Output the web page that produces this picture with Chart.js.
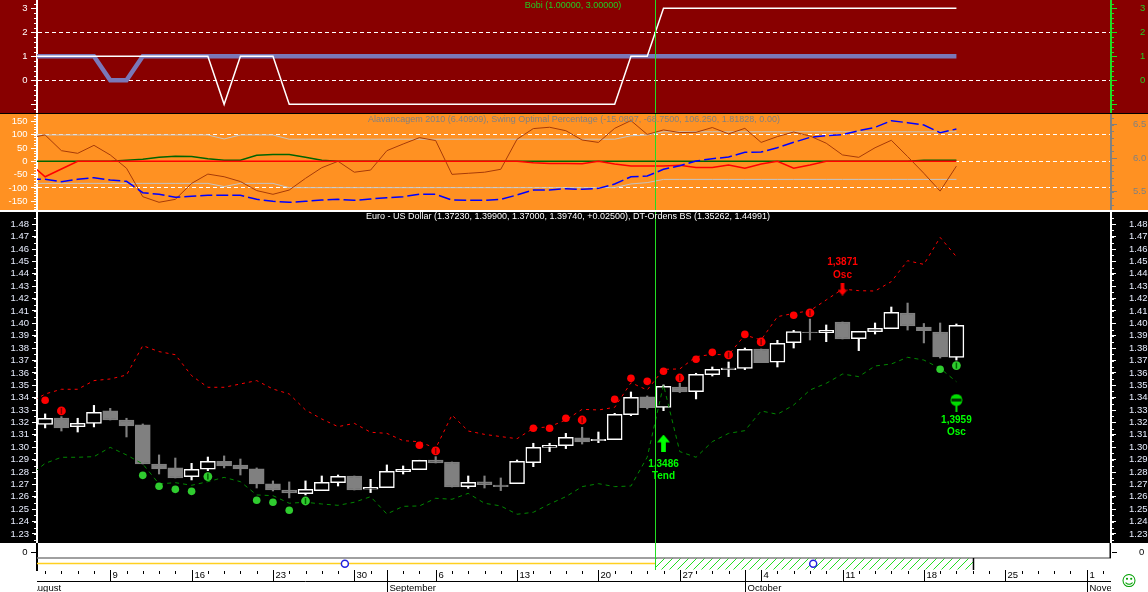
<!DOCTYPE html>
<html>
<head>
<meta charset="utf-8">
<title>Euro - US Dollar</title>
<script src="https://cdn.jsdelivr.net/npm/chart.js@4/dist/chart.umd.min.js"></script>
<style>
  html, body { margin: 0; padding: 0; background: #000; overflow: hidden; }
  canvas { position: absolute; left: 0; display: block; }
  #bobiChart { top: 0; background: #880000; }
  #swingChart { top: 114px; background: #ff9122; }
  #priceChart { top: 212px; background: #000; }
  #whiteLine { position: absolute; left: 0; top: 210px; width: 1148px; height: 2px; background: #fff; }
  #dateChart { top: 543px; background: #fff; }
</style>
</head>
<body>
<canvas id="bobiChart" width="1148" height="113"></canvas>
<canvas id="swingChart" width="1148" height="96"></canvas>
<div id="whiteLine"></div>
<canvas id="priceChart" width="1148" height="331"></canvas>
<canvas id="dateChart" width="1148" height="49"></canvas>
<script>
// candles, day 0 is the first one drawn
const opens  = [1.3185,1.3236,1.3166,1.3193,1.3293,1.3220,1.3180,1.2865,1.2833,1.2763,1.2822,1.2887,1.2857,1.2825,1.2704,1.2655,1.2626,1.2650,1.2714,1.2768,1.2661,1.2674,1.2803,1.2819,1.2897,1.2881,1.2682,1.2720,1.2695,1.2706,1.2876,1.2999,1.3013,1.3075,1.3053,1.3061,1.3263,1.3406,1.3322,1.3486,1.3449,1.3586,1.3626,1.3637,1.3793,1.3686,1.3844,1.3930,1.3925,1.4011,1.3877,1.3933,1.3957,1.4084,1.3971,1.3930,1.3726]
const closes = [1.3234,1.3156,1.3193,1.3282,1.3220,1.3172,1.2865,1.2825,1.2752,1.2822,1.2887,1.2849,1.2825,1.2704,1.2655,1.2631,1.2661,1.2717,1.2765,1.2655,1.2677,1.2806,1.2822,1.2895,1.2873,1.2679,1.2717,1.2698,1.2682,1.2887,1.2999,1.3016,1.3080,1.3043,1.3064,1.3266,1.3403,1.3320,1.3492,1.3446,1.3589,1.3629,1.3640,1.3790,1.3683,1.3839,1.3933,1.3925,1.3944,1.3874,1.3936,1.3960,1.4089,1.3979,1.3941,1.3729,1.3984]
const highs  = [1.3269,1.3247,1.3234,1.3338,1.3314,1.3234,1.3188,1.2938,1.2913,1.2870,1.2921,1.2930,1.2905,1.2833,1.2728,1.2720,1.2728,1.2768,1.2776,1.2768,1.2741,1.2857,1.2849,1.2895,1.2924,1.2881,1.2768,1.2768,1.2752,1.2897,1.3032,1.3032,1.3112,1.3161,1.3123,1.3274,1.3446,1.3414,1.3503,1.3516,1.3597,1.3648,1.3688,1.3801,1.3793,1.3863,1.3944,1.4035,1.3987,1.4011,1.3936,1.4003,1.4132,1.4164,1.3999,1.4003,1.3995]
const lows   = [1.3156,1.3131,1.3123,1.3164,1.3220,1.3083,1.2865,1.2784,1.2752,1.2736,1.2811,1.2833,1.2776,1.2671,1.2647,1.2591,1.2615,1.2650,1.2687,1.2655,1.2634,1.2674,1.2784,1.2819,1.2873,1.2679,1.2669,1.2671,1.2650,1.2706,1.2843,1.2965,1.2989,1.3026,1.3037,1.3061,1.3255,1.3309,1.3295,1.3441,1.3390,1.3575,1.3570,1.3626,1.3683,1.3648,1.3801,1.3866,1.3852,1.3874,1.3780,1.3914,1.3957,1.3946,1.3842,1.3720,1.3704]

// lines start one day before the first candle, that day is cut by the scale
const upperBand = [1.3354,1.3430,1.3468,1.3468,1.3538,1.3551,1.3583,1.3820,1.3772,1.3747,1.3578,1.3484,1.3484,1.3511,1.3538,1.3470,1.3430,1.3301,1.3228,1.3166,1.3193,1.3121,1.3112,1.3053,1.3045,1.2991,1.3260,1.3131,1.3104,1.3086,1.3069,1.3153,1.3166,1.3220,1.3306,1.3301,1.3322,1.3521,1.3462,1.3629,1.3632,1.3731,1.3750,1.3745,1.3906,1.3866,1.4054,1.4081,1.4102,1.4189,1.4277,1.4264,1.4261,1.4337,1.4506,1.4476,1.4694,1.4538]
const lowerBand = [1.2764,1.2870,1.2919,1.2919,1.2924,1.2999,1.2938,1.2865,1.2704,1.2714,1.2693,1.2722,1.2757,1.2722,1.2615,1.2609,1.2548,1.2556,1.2542,1.2531,1.2556,1.2601,1.2461,1.2523,1.2526,1.2588,1.2580,1.2628,1.2548,1.2526,1.2459,1.2475,1.2542,1.2601,1.2682,1.2706,1.2682,1.2687,1.2920,1.3503,1.2965,1.2919,1.3045,1.3112,1.3134,1.3293,1.3266,1.3341,1.3462,1.3516,1.3591,1.3570,1.3656,1.3672,1.3726,1.3704,1.3637,1.3529]

const redDotDays    = [0,23,30,31,32,35,36,37,38,40,41,43,46]
const redDotPrices  = [1.3379,1.3016,1.3153,1.3153,1.3234,1.3387,1.3556,1.3532,1.3613,1.3710,1.3766,1.3911,1.4065]
const redMarkDays   = [1,24,33,39,42,44,47]
const redMarkPrices = [1.3293,1.2970,1.3220,1.3559,1.3745,1.3850,1.4084]
const greenDotDays    = [6,7,8,9,13,14,15,55]
const greenDotPrices  = [1.2773,1.2685,1.2660,1.2644,1.2572,1.2556,1.2491,1.3629]
const greenMarkDays   = [10,16,56]
const greenMarkPrices = [1.2763,1.2566,1.3659]

// notes on the price panel
const noteTexts  = ['1,3871','Osc','1,3486','Tend','1,3959','Osc']
const noteDays   = [49,49,38,38,56,56]
const notePrices = [1.4490,1.4390,1.2865,1.2768,1.3220,1.3118]
const noteColors = ['#ff0000','#ff0000','#00ff00','#00ff00','#00ff00','#00ff00']

// bobi panel
const bobiThick = [1,1,1,1,1,0,0,1,1,1,1,1,1,1,1,1,1,1,1,1,1,1,1,1,1,1,1,1,1,1,1,1,1,1,1,1,1,1,1,1,1,1,1,1,1,1,1,1,1,1,1,1,1,1,1,1,1,1]
const bobiThin  = [1,1,1,1,1,1,1,1,1,1,1,1,-1,1,1,1,-1,-1,-1,-1,-1,-1,-1,-1,-1,-1,-1,-1,-1,-1,-1,-1,-1,-1,-1,-1,-1,1,1,3,3,3,3,3,3,3,3,3,3,3,3,3,3,3,3,3,3,3]

// swing panel
const swingBrown = [88,99,40,30,60,24,-26,-133,-154,-143,-83,-48,-58,-76,-110,-124,-108,-64,-24,0,-41,-33,40,65,89,78,-49,-45,-41,-30,83,123,128,115,80,71,124,153,101,118,108,109,127,103,124,71,93,110,95,68,24,15,51,79,18,-45,-112,-18]
const swingUpper = [99,99,99,99,99,99,99,99,99,99,99,99,84,99,99,99,83,83,83,83,83,83,83,83,83,83,83,83,83,83,83,83,83,83,83,83,83,96,99,111,111,111,111,111,111,111,111,111,111,111,111,111,111,111,111,111,111,111]
const swingLower = [-83,-83,-83,-83,-83,-83,-83,-83,-83,-83,-83,-83,-95,-83,-83,-83,-99,-99,-99,-99,-99,-99,-99,-99,-99,-99,-99,-99,-99,-99,-99,-99,-99,-99,-99,-99,-99,-85,-80,-68,-68,-68,-68,-68,-68,-68,-68,-68,-68,-68,-68,-68,-68,-68,-68,-68,-68,-68]
const swingGreen = [0,0,0,0,0,0,4,8,15,19,18,10,4,4,23,26,26,15,4,0,0,0,0,0,0,0,0,0,0,0,0,0,0,0,0,0,0,0,0,0,0,0,0,0,0,0,0,0,0,0,0,0,0,0,0,4,4,4]
const swingRed   = [-5,-58,-29,0,0,0,0,0,0,0,0,0,0,0,0,0,0,0,0,0,0,0,0,0,0,0,0,0,0,0,0,-5,-8,-8,-9,0,-10,-18,-18,-18,-15,-23,-23,-14,-26,-10,0,-26,-14,0,0,0,0,0,0,0,0,0]
const swingBlue  = [5.682,5.682,5.647,5.682,5.706,5.672,5.652,5.483,5.458,5.413,5.428,5.443,5.443,5.443,5.383,5.353,5.338,5.353,5.373,5.383,5.368,5.388,5.408,5.423,5.458,5.458,5.373,5.368,5.368,5.383,5.448,5.522,5.522,5.542,5.532,5.547,5.612,5.721,5.731,5.831,5.886,5.955,5.990,6.015,6.085,6.090,6.154,6.234,6.308,6.333,6.348,6.408,6.458,6.557,6.527,6.493,6.378,6.433]

// date axis
const weekDays   = [4,9,14,19,24,29,34,39,44,49,54,59,64]
const weekLabels = ['9','16','23','30','6','13','20','27','4','11','18','25','1']
const monthDays   = [-1,21,43,64]
const monthLabels = ['August','September','October','November']

const cursorDay = 37.5
const hatchEnd = 57.05
const firstDay = -0.5
const lastDay = 65.5

const points = (xs, ys) => xs.map((x, i) => ({ x: x, y: ys[i] }))
const fromDay = (ys, start) => ys.map((y, i) => ({ x: i + start, y: y }))

const lineSet = (data, color, width, extra) => Object.assign({
  type: 'line', data: data, borderColor: color, borderWidth: width, pointRadius: 0, tension: 0, fill: false
}, extra)

const dotSet = (days, prices, color, radius, order) => ({
  type: 'scatter', data: points(days, prices), backgroundColor: color, borderWidth: 0, pointRadius: radius, order: order
})

// dark stroke in the middle of the marked dots
const markSet = (days, prices, color, order) => ({
  type: 'scatter', data: points(days, prices), pointStyle: 'line', rotation: 90, borderColor: color,
  borderWidth: 1.5, pointRadius: 3, order: order
})

const arrowImage = (color, w, h, up) => {
  const c = document.createElement('canvas')
  c.width = w
  c.height = h
  const g = c.getContext('2d')
  if (!up) { g.translate(0, h); g.scale(1, -1) }
  g.fillStyle = color
  g.beginPath()
  g.moveTo(w / 2, 0)
  g.lineTo(w, h * 0.45)
  g.lineTo(w * 0.68, h * 0.45)
  g.lineTo(w * 0.68, h)
  g.lineTo(w * 0.32, h)
  g.lineTo(w * 0.32, h * 0.45)
  g.lineTo(0, h * 0.45)
  g.closePath()
  g.fill()
  return c
}

const stopImage = () => {
  const c = document.createElement('canvas')
  c.width = 13
  c.height = 18
  const g = c.getContext('2d')
  g.fillStyle = '#00dd00'
  g.beginPath()
  g.arc(6.5, 6.5, 6, 0, Math.PI * 2)
  g.fill()
  g.fillRect(5.5, 11, 2, 7)
  g.fillStyle = '#003300'
  g.fillRect(1.5, 5, 10, 3)
  return c
}

const hatchPattern = () => {
  const c = document.createElement('canvas')
  c.width = 8
  c.height = 8
  const g = c.getContext('2d')
  g.strokeStyle = '#22dd22'
  g.lineWidth = 1
  g.beginPath()
  g.moveTo(-1, 9)
  g.lineTo(9, -1)
  g.stroke()
  return g.createPattern(c, 'repeat')
}

// minor ticks and the thin vertical cursor, both placed with the chart's scales
const panelMarks = {
  id: 'panelMarks',
  afterDraw(chart, args, opts) {
    const ctx = chart.ctx
    const area = chart.chartArea
    ctx.save()
    ;(opts.minors || []).forEach(m => {
      const scale = chart.scales[m.id]
      ctx.strokeStyle = m.color
      ctx.lineWidth = 1
      ctx.beginPath()
      const n = Math.round((scale.max - scale.min) / m.step) + 1
      const start = Math.ceil(scale.min / m.step)
      for (let i = 0; i < n; i++) {
        const v = (start + i) * m.step
        if (v > scale.max) break
        const y = Math.round(scale.getPixelForValue(v)) + 0.5
        const x = scale.position === 'left' ? area.left : area.right
        ctx.moveTo(x, y)
        ctx.lineTo(scale.position === 'left' ? x - 3 : x + 3, y)
      }
      ctx.stroke()
    })
    if (opts.cursor) {
      const x = Math.round(chart.scales.x.getPixelForValue(cursorDay)) + 0.5
      ctx.strokeStyle = opts.cursor
      ctx.lineWidth = 1
      ctx.beginPath()
      ctx.moveTo(x, area.top)
      ctx.lineTo(x, area.bottom)
      ctx.stroke()
    }
    if (opts.title) {
      ctx.fillStyle = opts.titleColor
      ctx.font = opts.titleFont
      ctx.textAlign = 'center'
      ctx.textBaseline = 'middle'
      ctx.fillText(opts.title, opts.titleX, opts.titleY)
    }
    ctx.restore()
  }
}

const priceNotes = {
  id: 'priceNotes',
  afterDraw(chart) {
    const ctx = chart.ctx
    ctx.save()
    ctx.font = 'bold 10px "Liberation Sans"'
    ctx.textAlign = 'center'
    ctx.textBaseline = 'middle'
    noteTexts.forEach((t, i) => {
      ctx.fillStyle = noteColors[i]
      ctx.fillText(t, chart.scales.x.getPixelForValue(noteDays[i]), chart.scales.y.getPixelForValue(notePrices[i]))
    })
    ctx.restore()
  }
}

const dateAxis = {
  id: 'dateAxis',
  afterDraw(chart) {
    const ctx = chart.ctx
    const x = chart.scales.x
    const area = chart.chartArea
    const top = area.bottom
    const px = d => Math.round(x.getPixelForValue(d)) + 0.5
    ctx.save()
    ctx.strokeStyle = '#000'
    ctx.lineWidth = 1
    ctx.beginPath()
    ctx.moveTo(area.left, top + 11.5)
    ctx.lineTo(area.right, top + 11.5)
    for (let d = 0; d <= lastDay; d++) {
      ctx.moveTo(px(d), top + 1)
      ctx.lineTo(px(d), top + 4)
    }
    weekDays.forEach(d => {
      ctx.moveTo(px(d), top)
      ctx.lineTo(px(d), top + 11)
    })
    monthDays.slice(1).forEach(d => {
      ctx.moveTo(px(d), top)
      ctx.lineTo(px(d), top + 22)
    })
    ctx.stroke()
    ctx.beginPath()
    ctx.rect(area.left, top, area.right - area.left, 22)
    ctx.clip()
    ctx.fillStyle = '#000'
    ctx.font = '9.5px "Liberation Sans"'
    ctx.textBaseline = 'middle'
    ctx.textAlign = 'left'
    weekDays.forEach((d, i) => ctx.fillText(weekLabels[i], px(d) + 2, top + 5.5))
    monthDays.forEach((d, i) => ctx.fillText(monthLabels[i], px(d) + 2, top + 18.5))
    ctx.restore()
    ctx.save()
    ctx.fillStyle = '#00a000'
    ctx.font = '15px "DejaVu Sans"'
    ctx.textAlign = 'center'
    ctx.textBaseline = 'middle'
    ctx.fillText('\u263A', 1129, top + 12)
    ctx.restore()
  }
}

// keep the side columns fixed and let the plot fill the panel height
const sideFit = scale => {
  scale.width = 37
  scale.paddingTop = 0
  scale.paddingBottom = 0
}

const tickFont = { family: '"Liberation Sans"', size: 9.5 }

const yAxis = (position, min, max, step, color, textColor, pad, tickLength, format, extra) => Object.assign({
  position: position, min: min, max: max, afterFit: sideFit,
  border: { color: color, width: 2 },
  grid: { drawOnChartArea: false, tickColor: color, tickLength: tickLength, lineWidth: 1 },
  ticks: {
    stepSize: step, includeBounds: false, autoSkip: false, color: textColor, padding: pad,
    font: tickFont, callback: format
  }
}, extra)

const xAxis = { type: 'linear', min: firstDay, max: lastDay, display: false, offset: false }

const baseOptions = (scales, marks, extraPlugins) => ({
  responsive: false,
  animation: false,
  events: [],
  layout: { autoPadding: false, padding: 0 },
  scales: scales,
  plugins: Object.assign({ legend: { display: false }, tooltip: { enabled: false }, panelMarks: marks }, extraPlugins)
})

// dashed levels are the grid lines of these values
const dashedGrid = levels => ({
  grid: {
    color: c => levels.includes(c.tick.value) ? '#ffffff' : 'transparent',
    tickColor: '#ffffff', tickLength: 6, lineWidth: 1
  },
  border: { color: '#ffffff', width: 2, dash: [4, 3] }
})

const plain = v => String(v)

new Chart(document.getElementById('bobiChart'), {
  type: 'line',
  data: {
    datasets: [
      lineSet(fromDay(bobiThin, -1), '#ffffff', 1.5, { order: 1 }),
      lineSet(fromDay(bobiThick, -1), '#7a78b8', 4.5, { order: 2 })
    ]
  },
  options: baseOptions({
    x: xAxis,
    y: yAxis('left', -1.3625, 3.346, 1, '#ffffff', '#ffffff', 3.5, 6, v => v < 0 ? '' : plain(v), dashedGrid([0, 2])),
    y2: yAxis('right', -1.3625, 3.346, 1, '#22dd22', '#22cc22', 23, 6, v => v < 0 ? '' : plain(v))
  }, {
    minors: [{ id: 'y', step: 0.2, color: '#ffffff' }, { id: 'y2', step: 0.2, color: '#22dd22' }],
    cursor: '#22dd22',
    title: 'Bobi (1.00000, 3.00000)', titleColor: '#22cc22', titleFont: '9px "Liberation Sans"', titleX: 573, titleY: 6
  }),
  plugins: [panelMarks]
})

new Chart(document.getElementById('swingChart'), {
  type: 'line',
  data: {
    datasets: [
      lineSet(fromDay(swingBrown, -1), '#a63a08', 1, { order: 3 }),
      lineSet(fromDay(swingUpper, -1), '#c4c4c4', 1, { order: 5 }),
      lineSet(fromDay(swingLower, -1), '#c4c4c4', 1, { order: 5 }),
      lineSet(fromDay(swingGreen, -1), '#006400', 1.5, { order: 4 }),
      lineSet(fromDay(swingRed, -1), '#ff0000', 1.5, { order: 2 }),
      lineSet(fromDay(swingBlue, -1), '#0000ff', 1.5, { borderDash: [12, 4], yAxisID: 'y2', order: 1 })
    ]
  },
  options: baseOptions({
    x: xAxis,
    y: yAxis('left', -183, 177.8, 50, '#ffffff', '#ffffff', 3.5, 6, plain, dashedGrid([100, 0, -100])),
    y2: yAxis('right', 5.224, 6.657, 0.5, '#808080', '#808080', 16, 6, v => v.toFixed(1))
  }, {
    minors: [{ id: 'y', step: 10, color: '#ffffff' }, { id: 'y2', step: 0.1, color: '#808080' }],
    cursor: '#22dd22',
    title: 'Alavancagem 2010 (6.40909), Swing Optimal Percentage (-15.0897, -68.7500, 106.250, 1.81828, 0.00)',
    titleColor: '#808080', titleFont: '9px "Liberation Sans"', titleX: 574, titleY: 6
  }),
  plugins: [panelMarks]
})

const isUp = i => closes[i] >= opens[i]
const candleDays = opens.map((o, i) => i)

new Chart(document.getElementById('priceChart'), {
  type: 'bar',
  data: {
    datasets: [
      {
        data: candleDays.map(i => ({ x: i, y: [lows[i], highs[i]] })),
        barThickness: 1.5, grouped: false, order: 9, borderWidth: 0,
        backgroundColor: candleDays.map(i => isUp(i) ? '#ffffff' : '#808080')
      },
      {
        data: candleDays.map(i => ({ x: i, y: [opens[i], closes[i]] })),
        barThickness: 15, grouped: false, order: 8, borderSkipped: false,
        backgroundColor: candleDays.map(i => isUp(i) ? '#000000' : '#808080'),
        borderColor: candleDays.map(i => isUp(i) ? '#ffffff' : '#808080'),
        borderWidth: 1.5
      },
      lineSet(fromDay(upperBand, -1), '#ff0000', 1, { borderDash: [3, 4], order: 7 }),
      lineSet(fromDay(lowerBand, -1), '#008800', 1, { borderDash: [4, 4], order: 7 }),
      dotSet(redDotDays, redDotPrices, '#ff0000', 3.8, 6),
      dotSet(redMarkDays, redMarkPrices, '#ff0000', 4.4, 6),
      markSet(redMarkDays, redMarkPrices, '#800000', 5),
      dotSet(greenDotDays, greenDotPrices, '#2fcc2f', 3.8, 6),
      dotSet(greenMarkDays, greenMarkPrices, '#2fcc2f', 4.4, 6),
      markSet(greenMarkDays, greenMarkPrices, '#006600', 5),
      { type: 'scatter', data: [{ x: 38, y: 1.3034 }], pointStyle: arrowImage('#00ff00', 13, 17, true), order: 4 },
      { type: 'scatter', data: [{ x: 49, y: 1.4277 }], pointStyle: arrowImage('#ff0000', 10, 13, false), order: 4 },
      { type: 'scatter', data: [{ x: 56, y: 1.3361 }], pointStyle: stopImage(), order: 4 }
    ]
  },
  options: baseOptions({
    x: xAxis,
    y: yAxis('left', 1.2227, 1.4899, 0.01, '#ffffff', '#e8eeff', 3, 5, v => v.toFixed(2)),
    y2: yAxis('right', 1.2227, 1.4899, 0.01, '#ffffff', '#e8eeff', 13, 5, v => v.toFixed(2))
  }, {
    minors: [{ id: 'y', step: 0.005, color: '#ffffff' }, { id: 'y2', step: 0.005, color: '#ffffff' }],
    cursor: '#22dd22',
    title: 'Euro - US Dollar (1.37230, 1.39900, 1.37000, 1.39740, +0.02500), DT-Ordens BS (1.35262, 1.44991)',
    titleColor: '#ffffff', titleFont: '9px "Liberation Sans"', titleX: 568, titleY: 5
  }, { priceNotes: {} }),
  plugins: [panelMarks, priceNotes]
})

const onlyZero = s => { s.ticks = [{ value: 0 }] }

new Chart(document.getElementById('dateChart'), {
  type: 'line',
  data: {
    datasets: [
      lineSet(points([firstDay, lastDay], [-1, -1]), '#808080', 1.5, { order: 2 }),
      lineSet(points([firstDay, cursorDay], [-1.9, -1.9]), '#ffd020', 1.5, { order: 3 }),
      lineSet(points([cursorDay, hatchEnd], [-2.9, -2.9]), 'transparent', 0, { fill: { value: -1 }, backgroundColor: hatchPattern(), order: 4 }),
      lineSet(points([hatchEnd, hatchEnd], [-1, -3]), '#000000', 1.5, { order: 1 }),
      lineSet(points([lastDay, lastDay], [1.5, -1]), '#000000', 3, { order: 1 }),
      { type: 'scatter', data: [{ x: 18.42, y: -1.95 }, { x: 47.2, y: -1.95 }], pointRadius: 3.5, backgroundColor: '#ffffff', borderColor: '#2020e0', borderWidth: 1.5, order: 0 },
      { type: 'scatter', data: [{ x: 18.42, y: -1.95 }, { x: 47.2, y: -1.95 }], pointStyle: 'line', pointRadius: 2.5, borderColor: '#2020e0', borderWidth: 1.5, order: 0 }
    ]
  },
  options: Object.assign(baseOptions({
    x: xAxis,
    y: yAxis('left', -3, 1.5, 1, '#000000', '#000000', 3.5, 6, plain, { afterBuildTicks: onlyZero }),
    y2: yAxis('right', -3, 1.5, 1, 'transparent', '#000000', 22, 6, plain, {
      afterBuildTicks: onlyZero,
      grid: { drawOnChartArea: false, tickColor: '#000000', tickLength: 6 }
    })
  }, {
    cursor: '#22dd22'
  }, { dateAxis: {} }), { layout: { autoPadding: false, padding: { bottom: 22 } } }),
  plugins: [panelMarks, dateAxis]
})
</script>
</body>
</html>
